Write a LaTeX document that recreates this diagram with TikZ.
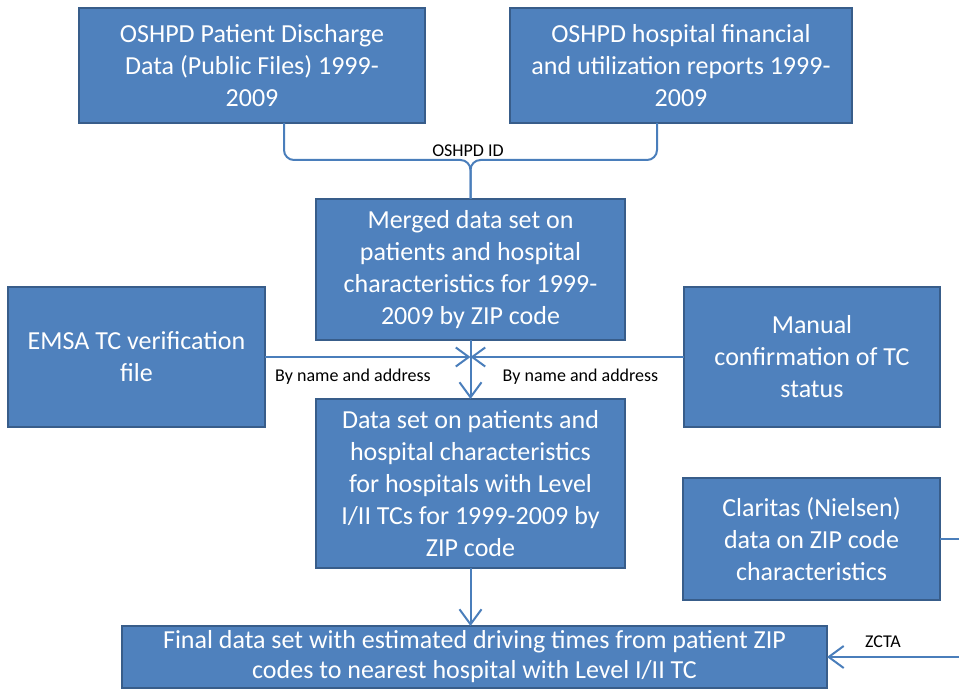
\documentclass[tikz,border=0pt]{standalone}
\usepackage{fontspec}
\setmainfont{Carlito}
\usetikzlibrary{arrows.meta}
\definecolor{boxfill}{HTML}{4F81BD}
\definecolor{boxline}{HTML}{385D8A}
\definecolor{connc}{HTML}{4A7EBB}
\begin{document}
\begin{tikzpicture}[x=1pt,y=-1pt,
  databox/.style={draw=boxline, fill=boxfill, line width=2pt, text=white,
    align=center, inner sep=0pt, outer sep=0pt,
    font=\fontsize{26}{32}\selectfont},
  conn/.style={draw=connc, line width=2pt},
  tipbig/.style={-{Straight Barb[length=15pt,width=22pt]}},
  tipsmall/.style={-{Straight Barb[length=13pt,width=19pt]}},
  lbl/.style={text=black, font=\fontsize{18}{21}\selectfont, inner sep=0pt}]
\useasboundingbox (0,0) rectangle (959,690);
\clip (0,0) rectangle (959,690);

\node[databox, minimum width=346pt, minimum height=115pt] (b1) at (252,65.5)
  {OSHPD Patient Discharge\\Data (Public Files) 1999-\\2009};
\node[databox, minimum width=342pt, minimum height=115pt] (b2) at (681,65.5)
  {OSHPD hospital financial\\and utilization reports 1999-\\2009};
\node[databox, minimum width=309pt, minimum height=141pt] (b3) at (470.5,269.5)
  {Merged data set on\\patients and hospital\\characteristics for 1999-\\2009 by ZIP code};
\node[databox, minimum width=257pt, minimum height=140pt] (emsa) at (136.5,357)
  {EMSA TC verification\\file};
\node[databox, minimum width=256pt, minimum height=140pt] (manual) at (812,357)
  {Manual\\confirmation of TC\\status};
\node[databox, minimum width=309pt, minimum height=169pt] (b4) at (470.5,483.5)
  {Data set on patients and\\hospital characteristics\\for hospitals with Level\\I/II TCs for 1999-2009 by\\ZIP code};
\node[databox, minimum width=257pt, minimum height=122pt] (clar) at (811.5,539)
  {Claritas (Nielsen)\\data on ZIP code\\characteristics};
\node[databox, minimum width=705pt, minimum height=62pt,
  font=\fontsize{26}{30}\selectfont] (final) at (474.5,657)
  {Final data set with estimated driving times from patient ZIP\\codes to nearest hospital with Level I/II TC};

\coordinate (lx) at (284,0);
\coordinate (rx) at (657,0);
\coordinate (jc) at (470.5,160);
\coordinate (xc) at (470.5,357);
\coordinate (edge) at (975,0);

\draw[conn, rounded corners=10pt] (b1.south -| lx) |- (jc) -- (b3.north);
\draw[conn, rounded corners=10pt] (b2.south -| rx) |- (jc) -- (b3.north);
\node[lbl] (l1) at (468,151) {OSHPD ID};

\draw[conn, tipsmall] (emsa.east) -- (xc);
\draw[conn, tipsmall] (manual.west) -- (xc);
\draw[conn, tipbig] (b3.south) -- (b4.north);
\node[lbl] (l2) at (353,377) {By name and address};
\node[lbl] (l3) at (580.5,377) {By name and address};

\draw[conn, tipbig] (b4.south) -- (b4.south |- final.north);
\draw[conn, tipbig] (clar.east) -| (edge |- final.east) -- (final.east);
\node[lbl] (l4) at (883,642) {ZCTA};
\end{tikzpicture}
\end{document}
